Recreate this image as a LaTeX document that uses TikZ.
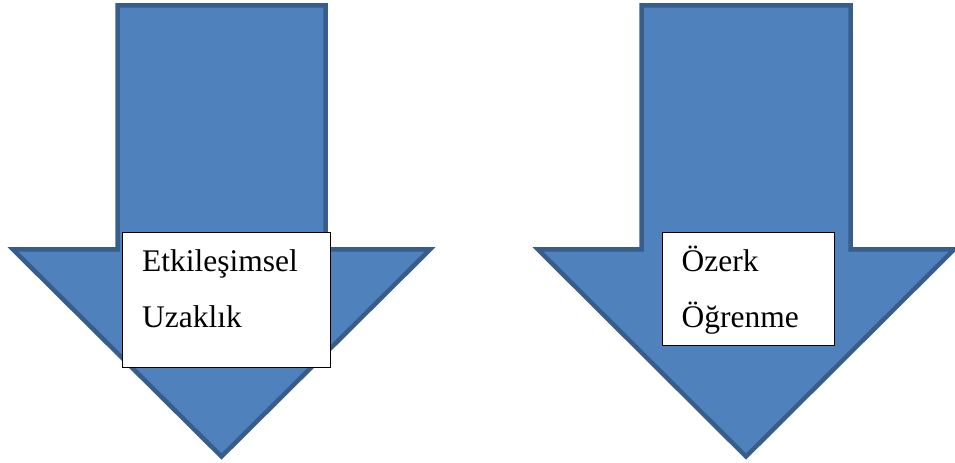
\documentclass[tikz,border=0pt]{standalone}
\usepackage{fontspec}
\setmainfont{Liberation Serif}
\definecolor{arrowfill}{HTML}{4F81BD}
\definecolor{arrowline}{HTML}{385D8A}
\tikzset{
  bigarrow/.style={fill=arrowfill, draw=arrowline, line width=4.5bp, line join=miter},
  labelbox/.style={draw=black, fill=white, line width=1bp, inner sep=0pt, anchor=north west},
  labeltext/.style={anchor=base west, inner sep=0pt, font=\fontsize{31.5bp}{38bp}\selectfont}
}
\begin{document}
\begin{tikzpicture}[x=1bp, y=-1bp]
\useasboundingbox (0,0) rectangle (955,463);
% left arrow
\draw[bigarrow] (117.5,5.5) -- (325.5,5.5) -- (325.5,249.5) -- (430,249.5) -- (221.5,456.5) -- (13,249.5) -- (117.5,249.5) -- cycle;
% right arrow
\draw[bigarrow] (641.5,5.5) -- (850.5,5.5) -- (850.5,249.5) -- (954,249.5) -- (746,456.5) -- (538,249.5) -- (641.5,249.5) -- cycle;
% boxes
\node[labelbox, minimum width=208bp, minimum height=134.5bp] (boxL) at (122,232.3) {};
\node[labelbox, minimum width=172bp, minimum height=112.7bp] (boxR) at (662,232.3) {};
\node[labeltext] (tL1) at (142,272) {Etkileşimsel};
\node[labeltext] (tL2) at (142,328) {Uzaklık};
\node[labeltext] (tR1) at (681.5,272) {Özerk};
\node[labeltext] (tR2) at (681.5,328) {Öğrenme};
\end{tikzpicture}
\end{document}
